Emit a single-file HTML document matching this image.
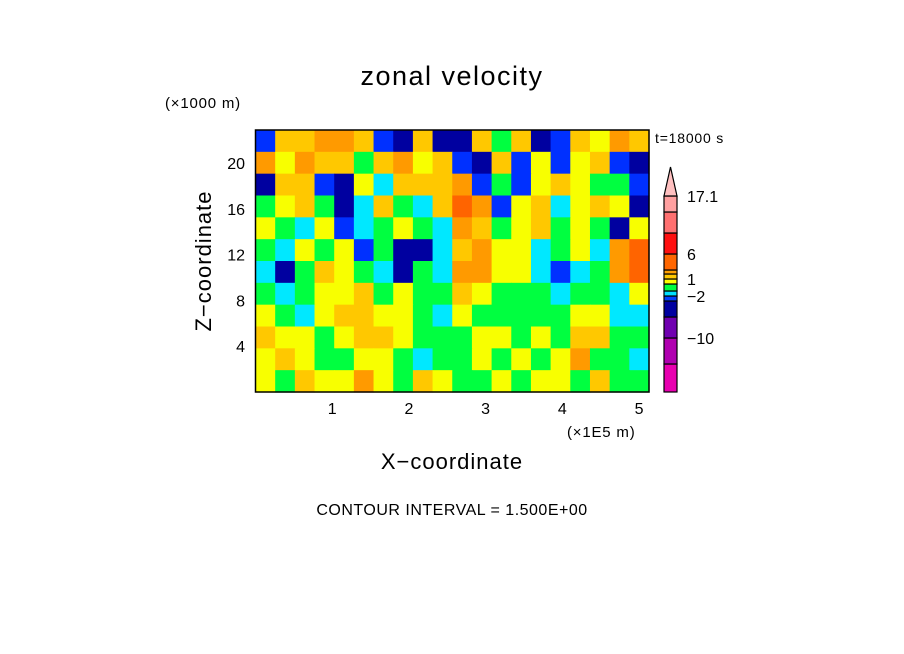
<!DOCTYPE html>
<html><head><meta charset="utf-8"><style>
html,body{margin:0;padding:0;background:#fff;}
svg{display:block;font-family:"Liberation Sans",sans-serif;}
</style></head><body>
<svg id="c" width="904" height="654" viewBox="0 0 904 654">
<text x="452" y="85" font-size="27" letter-spacing="1.5" text-anchor="middle">zonal velocity</text>
<text x="165" y="108" font-size="15" letter-spacing="0.8">(×1000 m)</text>
<text x="655" y="143" font-size="14" letter-spacing="0.8">t=18000 s</text>
<text transform="translate(211,261) rotate(-90)" font-size="22" letter-spacing="1" text-anchor="middle">Z−coordinate</text>
<text x="452" y="469" font-size="22" letter-spacing="1" text-anchor="middle">X−coordinate</text>
<text x="567" y="437" font-size="15" letter-spacing="0.8">(×1E5 m)</text>
<text x="452" y="515" font-size="16" letter-spacing="0.5" text-anchor="middle">CONTOUR INTERVAL = 1.500E+00</text>
<g id="field"></g>
<g id="axes"></g>
<g id="cbar"></g>
</svg>
<script>
const xTicks=[1,2,3,4,5];
const yTicks=[4,8,12,16,20];
const xMax=5.13, yMax=22.9;
const palette=["#0000a0","#0030ff","#00e8ff","#00ff40","#f8ff00","#ffc800","#ff9a00","#ff6400"];
const gridRows=[
"15566510500535015465",
"64655356451051414510",
"05510425556131454331",
"34530253257614524540",
"43241234326534534304",
"32434130025644234267",
"20354320326644212367",
"32344534335433323324",
"43245544324333334422",
"54434554333443435533",
"45433443233434346332",
"43544643543343443533"];
const cbLevels=["#e800b0","#b000b0","#7000b0","#0000a0","#0040ff","#00e0ff","#00ff40","#ffff00","#ffc800","#ffa000","#ff6600","#ff1010","#ff7070","#ffa0a0"];
const cbHeights=[28,26,21,16,5,5,7,5,5,4,16,21,21,16];
const cbLabels=["17.1","6","1","−2","−10"];
const cbLabelIdx=[14,11,8,5,2];

const NS="http://www.w3.org/2000/svg";
const L=255.5,R=649,T=130,B=392;
const sx=v=>L+v/xMax*(R-L), sy=v=>B-v/yMax*(B-T);
function mk(tag,attrs,parent){const e=document.createElementNS(NS,tag);for(const k in attrs)e.setAttribute(k,attrs[k]);parent.appendChild(e);return e;}
const field=document.getElementById('field');
const nr=gridRows.length,nc=gridRows[0].length;
const cw=(R-L)/nc,ch=(B-T)/nr;
gridRows.forEach((row,r)=>{for(let c=0;c<nc;c++){
 const e=mk('rect',{x:L+c*cw,y:T+r*ch,width:cw+0.6,height:ch+0.6,fill:palette[+row[c]]},field);
 
 
}});
const axes=document.getElementById('axes');
const fr=mk('rect',{x:L,y:T,width:R-L,height:B-T,fill:'none',stroke:'#000','stroke-width':1.5},axes);


xTicks.forEach(v=>{const t=mk('text',{x:sx(v),y:414,'font-size':16,'text-anchor':'middle'},axes);t.textContent=v;
 
 });
yTicks.forEach(v=>{const t=mk('text',{x:245,y:sy(v)+6,'font-size':16,'text-anchor':'end'},axes);t.textContent=v;
 
 });
const cb=document.getElementById('cbar');
let y=392;const cx=664,cwid=13;const ys=[392];
cbLevels.forEach((col,i)=>{const h=cbHeights[i];y-=h;ys.push(y);
 const e=mk('rect',{x:cx,y:y,width:cwid,height:h,fill:col,stroke:'#000','stroke-width':1.2},cb);
 
 });
const tri=mk('polygon',{points:`${cx},${y} ${cx+cwid},${y} ${cx+cwid/2},${y-29}`,fill:'#ffc0c0',stroke:'#000','stroke-width':1.2},cb);


cbLabels.forEach((s,i)=>{const t=mk('text',{x:687,y:ys[cbLabelIdx[i]]+6,'font-size':16},cb);t.textContent=s;
 
 });
</script>
</body></html>
